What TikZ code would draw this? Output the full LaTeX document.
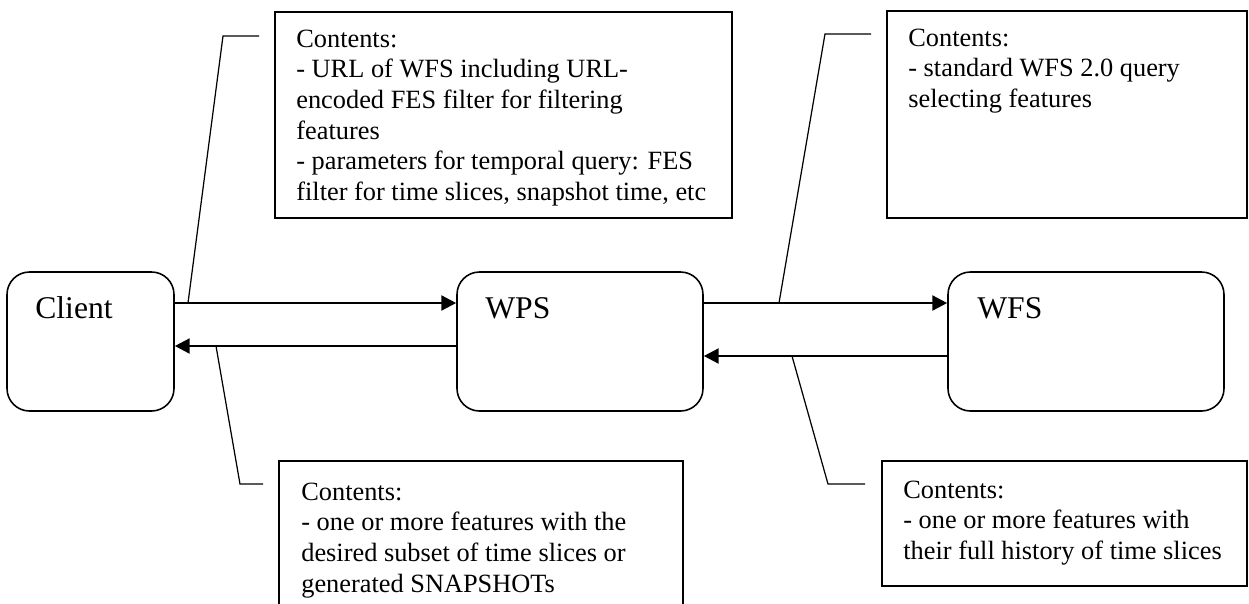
\documentclass[tikz,border=0pt]{standalone}
\usepackage{fontspec}
\setmainfont{Liberation Serif}
\usetikzlibrary{arrows.meta,fit}

\begin{document}
\begin{tikzpicture}[x=0.02cm, y=-0.02cm,
  service/.style={draw, line width=0.9pt, rounded corners=0.45cm, inner sep=0pt},
  note/.style={draw, line width=0.9pt, inner sep=0pt},
  servicename/.style={anchor=base west, inner sep=0pt, font=\fontsize{18}{21}\selectfont},
  notetext/.style={anchor=north west, inner sep=0pt, align=left, font=\fontsize{15}{17.4}\selectfont},
  flow/.style={-{Triangle[length=8.5pt,width=8.5pt]}, line width=1.4pt},
  callout/.style={line width=0.7pt}]

% page frame
\useasboundingbox (0,0) rectangle (1249,603);
\clip (0,0) rectangle (1249,603);

% draw the three services
\node[service, fit={(7,272) (174,411)}] (client) {};
\node[service, fit={(457,272) (703,411)}] (wps) {};
\node[service, fit={(948,272) (1224,411)}] (wfs) {};
\node[servicename] (clientname) at (35,318) {Client};
\node[servicename] (wpsname) at (485,318) {WPS};
\node[servicename] (wfsname) at (977,318) {WFS};

% draw requests and responses
\coordinate (req) at (0,303);
\coordinate (resp) at (0,346);
\coordinate (wfsresp) at (0,356);
\draw[flow] (client.east |- req) -- (wps.west |- req);
\draw[flow] (wps.west |- resp) -- (client.east |- resp);
\draw[flow] (wps.east |- req) -- (wfs.west |- req);
\draw[flow] (wfs.west |- wfsresp) -- (wps.east |- wfsresp);

% draw the notes
\node[note, fit={(275,12) (732,218)}] (clientreq) {};
\node[note, fit={(887,11) (1247,218)}] (wpsreq) {};
\node[note, fit={(279,461) (683,640)}] (wpsresp) {};
\node[note, fit={(882,461) (1247,586)}] (wfsresp) {};

\node[notetext] (clientreqtext) at (296,29.5) {Contents:\\- URL of WFS including URL-\\encoded FES filter for filtering\\features\\- parameters for temporal query: FES\\filter for time slices, snapshot time, etc};
\node[notetext] (wpsreqtext) at (908,28.5) {Contents:\\- standard WFS 2.0 query\\selecting features};
\node[notetext] (wpsresptext) at (301,482.5) {Contents:\\- one or more features with the\\desired subset of time slices or\\generated SNAPSHOTs};
\node[notetext] (wfsresptext) at (903,480.5) {Contents:\\- one or more features with\\their full history of time slices};

% draw callout lines onto the arrows
\draw[callout] (259,36) coordinate (cr_1) -- (223,36) coordinate (cr_2) -- (188,303) coordinate (cr_3);
\draw[callout] (871,34) coordinate (wq_1) -- (825,34) coordinate (wq_2) -- (779,303) coordinate (wq_3);
\draw[callout] (263,484) coordinate (wr_1) -- (240,484) coordinate (wr_2) -- (216,346) coordinate (wr_3);
\draw[callout] (865,484) coordinate (fr_1) -- (828,484) coordinate (fr_2) -- (792,356) coordinate (fr_3);

\end{tikzpicture}
\end{document}
